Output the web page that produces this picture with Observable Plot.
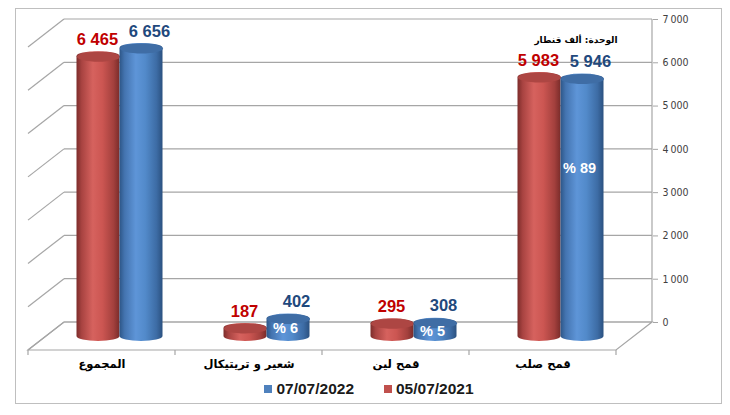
<!DOCTYPE html>
<html><head><meta charset="utf-8">
<script src="https://cdn.jsdelivr.net/npm/d3@7"></script>
<script src="https://cdn.jsdelivr.net/npm/@observablehq/plot@0.6"></script>
<style>
html,body{margin:0;padding:0;background:#fff;width:730px;height:415px;overflow:hidden;font-family:"Liberation Sans",Arial,"DejaVu Sans",sans-serif;}
#frame{position:absolute;left:15px;top:8px;width:705px;height:394px;border:1px solid #bfbfbf;pointer-events:none;}
#chart svg{display:block;}
#legend{display:flex;justify-content:center;align-items:center;height:22px;font-weight:bold;font-size:15.5px;color:#1a1a1a;padding-left:8px;}
#legend .sw{display:inline-block;width:8px;height:8px;margin-right:4px;}
#legend .item{display:flex;align-items:center;margin:0 15px;}
</style></head><body>
<div id="chart"></div>
<div id="legend"></div>
<div id="frame"></div>
<script>
// ---- data ----
const categories = ["المجموع", "شعير و تريتيكال", "قمح لين", "قمح صلب"];
const seriesLabels = ["05/07/2021", "07/07/2022"];
const values2021 = [6465, 187, 295, 5983];
const values2022 = [6656, 402, 308, 5946];
const shares2022 = [null, 6, 5, 89];
const yTicks = [0, 1000, 2000, 3000, 4000, 5000, 6000, 7000];
const unitLabel = "الوحدة: ألف قنطار";
const seriesColors = ["#C0504D", "#4F81BD"];
const labelColors = ["#C00000", "#1F497D"];
const capColors = ["#AD4643", "#3F6DA5"];

// ---- geometry / style ----
const W = 730, H = 378, ML = 28, MR = 114, MT = 47, MB = 28;
const DX = 36, DY = 28, BAR_W = 43, CAP_RY = 5, HALF = 21.5;
const bandW = (W - ML - MR) / categories.length;
const inset = (bandW - BAR_W) / 2;
const gridColor = "#a6a6a6";

const fmt = d3.formatLocale({thousands: " ", grouping: [3], decimal: ","}).format(",d");
const fmtAxis = d3.formatLocale({thousands: "\u202f", grouping: [3], decimal: ","}).format(",d");

const rows2021 = categories.map((c, i) => ({cat: c, v: values2021[i]}));
const rows2022 = categories.map((c, i) => ({cat: c, v: values2022[i], share: shares2022[i]}));

const NS = "http://www.w3.org/2000/svg";
function el(tag, attrs) {
  const e = document.createElementNS(NS, tag);
  for (const k in attrs) e.setAttribute(k, attrs[k]);
  return e;
}

function defsMark() {
  const d = el("defs", {});
  d.innerHTML = `
  <linearGradient id="gRed" x1="0" x2="1" y1="0" y2="0">
    <stop offset="0" stop-color="#7d2d2b"/>
    <stop offset="0.12" stop-color="#a84341"/>
    <stop offset="0.38" stop-color="#d6625e"/>
    <stop offset="0.6" stop-color="#cc5652"/>
    <stop offset="0.86" stop-color="#a3403d"/>
    <stop offset="1" stop-color="#7a2c2a"/>
  </linearGradient>
  <linearGradient id="gBlue" x1="0" x2="1" y1="0" y2="0">
    <stop offset="0" stop-color="#2d5687"/>
    <stop offset="0.12" stop-color="#4474b0"/>
    <stop offset="0.38" stop-color="#5e95d8"/>
    <stop offset="0.6" stop-color="#528aca"/>
    <stop offset="0.86" stop-color="#3d6ca5"/>
    <stop offset="1" stop-color="#2b5180"/>
  </linearGradient>`;
  return d;
}

function frame3d(index, scales, values, dims) {
  const {width, marginLeft, marginRight} = dims;
  const y = scales.y, x = scales.x;
  const x0 = marginLeft, x1 = width - marginRight;
  const y0 = y(0);
  const g = el("g", {fill: "none", stroke: gridColor, "stroke-width": 1.2});
  // floor
  g.appendChild(el("path", {fill: "#fff", d: `M${x0},${y0}L${x1},${y0}L${x1 + DX},${y0 - DY}L${x0 + DX},${y0 - DY}Z`}));
  // back wall grid + left wall diagonals
  for (const t of yTicks) {
    const yy = y(t);
    g.appendChild(el("line", {x1: x0 + DX, x2: x1 + DX, y1: yy - DY, y2: yy - DY}));
    g.appendChild(el("line", {x1: x0 + DX, x2: x0, y1: yy - DY, y2: yy}));
  }
  // right axis line
  g.appendChild(el("line", {x1: x1 + DX, x2: x1 + DX, y1: y(yTicks[yTicks.length - 1]) - DY, y2: y0 - DY}));
  // category boundary ticks on front edge
  const bw = x.bandwidth ? x.bandwidth() : (x1 - x0) / categories.length;
  const bounds = categories.map(c => x(c)).concat([x(categories[categories.length - 1]) + bw]);
  for (const b of bounds) g.appendChild(el("line", {x1: b, x2: b, y1: y0, y2: y0 + 5}));
  return g;
}

const ellipseSymbol = {
  draw(ctx, size) {
    const rx = Math.sqrt(size / Math.PI), ry = CAP_RY, k = 0.5522847498;
    ctx.moveTo(rx, 0);
    ctx.bezierCurveTo(rx, ry * k, rx * k, ry, 0, ry);
    ctx.bezierCurveTo(-rx * k, ry, -rx, ry * k, -rx, 0);
    ctx.bezierCurveTo(-rx, -ry * k, -rx * k, -ry, 0, -ry);
    ctx.bezierCurveTo(rx * k, -ry, rx, -ry * k, rx, 0);
    ctx.closePath();
  }
};

function cylinder(rows, grad, cap, dx) {
  return [
    Plot.barY(rows, {x: "cat", y: "v", fill: grad, insetLeft: inset, insetRight: inset,
      insetTop: -CAP_RY, insetBottom: -CAP_RY, rx: BAR_W / 2, ry: CAP_RY, dx, dy: -DY / 2}),
    Plot.dot(rows, {x: "cat", y: "v", r: BAR_W / 2, symbol: ellipseSymbol, fill: cap, stroke: "none", dx, dy: -DY / 2})
  ];
}

const dxRed = -HALF + DX / 2, dxBlue = HALF + DX / 2;

const plot = Plot.plot({
  width: W, height: H,
  marginLeft: ML, marginRight: MR, marginTop: MT, marginBottom: MB,
  style: {fontFamily: "'Liberation Sans', Arial, 'DejaVu Sans', sans-serif", background: "transparent", overflow: "visible"},
  x: {domain: categories, padding: 0, type: "band"},
  y: {domain: [0, 7000]},
  marks: [
    defsMark,
    frame3d,
    Plot.axisY(yTicks, {anchor: "right", tickSize: 5, tickPadding: 5, dx: DX, dy: -DY, tickFormat: fmtAxis,
      fontSize: 10.5, fill: "#404040", stroke: gridColor, label: null,
      fontFamily: "'Liberation Sans Narrow', 'DejaVu Sans Condensed', 'Liberation Sans', sans-serif"}),
    Plot.axisX({tickSize: 0, tickPadding: 9, fontSize: 11.5, fontWeight: "bold", fill: "#000", label: null,
      fontFamily: "'DejaVu Sans', sans-serif"}),
    ...cylinder(rows2021, "url(#gRed)", capColors[0], dxRed),
    ...cylinder(rows2022, "url(#gBlue)", capColors[1], dxBlue),
    Plot.text(rows2021, {x: "cat", y: "v", text: d => fmt(d.v), fill: labelColors[0], fontWeight: "bold", fontSize: 16.5,
      lineAnchor: "middle", dx: dxRed - 1, dy: -DY / 2 - 17}),
    Plot.text(rows2022, {x: "cat", y: "v", text: d => fmt(d.v), fill: labelColors[1], fontWeight: "bold", fontSize: 16.5,
      lineAnchor: "middle", dx: dxBlue + 8, dy: -DY / 2 - 17}),
    Plot.text(rows2022.filter(d => d.share != null), {x: "cat", y: d => d.v * 0.67, text: d => `% ${d.share}`,
      fill: "#fff", fontWeight: "bold", fontSize: 14.5, lineAnchor: "middle", dx: dxBlue - 3, dy: -DY / 2 + 4}),
    Plot.text([unitLabel], {frameAnchor: "top-right", text: d => d, textAnchor: "end", lineAnchor: "middle",
      fontSize: 9, fontWeight: "bold", fill: "#000", dx: 1, dy: -7, fontFamily: "'DejaVu Sans', sans-serif"})
  ]
});
document.getElementById("chart").appendChild(plot);

// legend (order as in reference: newest first)
const legend = document.getElementById("legend");
[1, 0].forEach(i => {
  const item = document.createElement("span");
  item.className = "item";
  const sw = document.createElement("span");
  sw.className = "sw";
  sw.style.background = seriesColors[i];
  const t = document.createElement("span");
  t.textContent = seriesLabels[i];
  item.appendChild(sw); item.appendChild(t);
  legend.appendChild(item);
});
</script>
</body></html>
